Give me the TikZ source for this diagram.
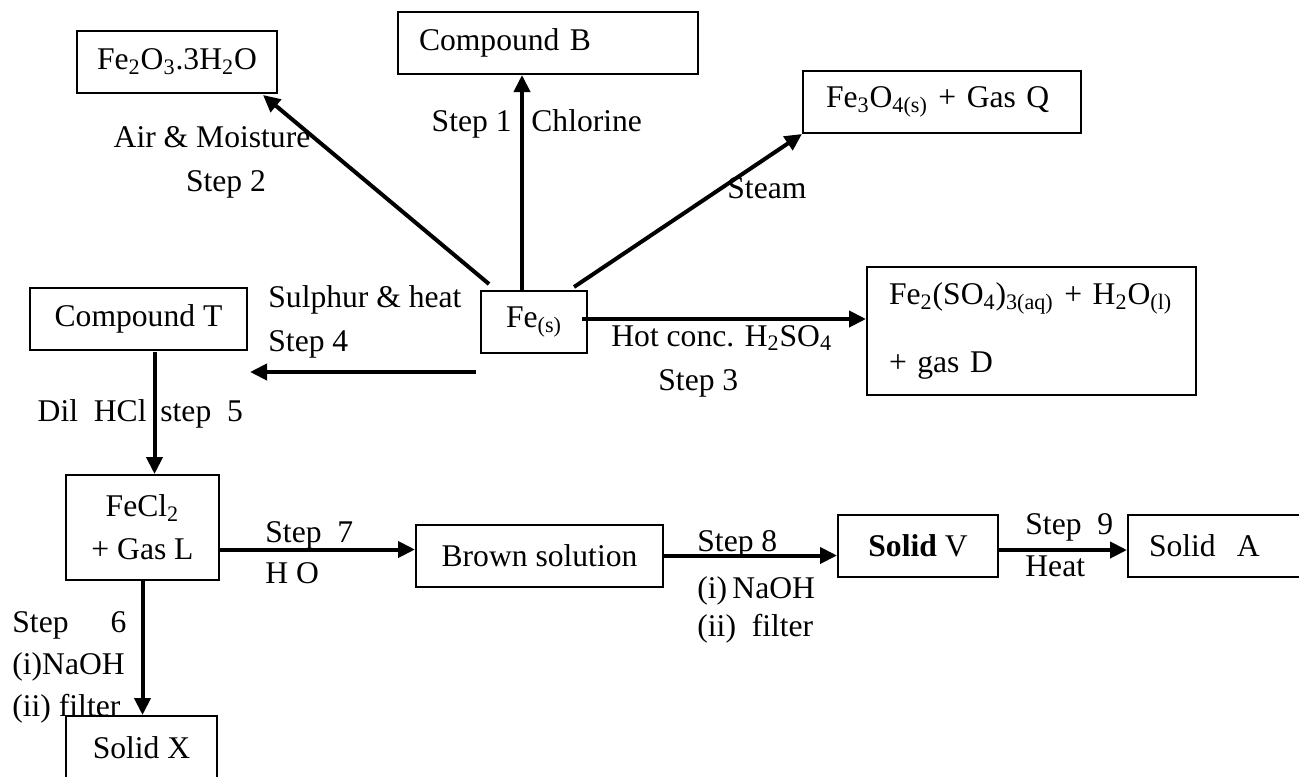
\documentclass[tikz,border=0pt]{standalone}
\usepackage{fontspec}
\setmainfont{Liberation Serif}
\usetikzlibrary{positioning,arrows.meta,calc}
\newcommand{\chsub}[1]{\textsubscript{#1}}

\begin{document}
\begin{tikzpicture}[
  x=0.5pt, y=-0.5pt,
  >={Triangle[length=8.5pt,width=8pt]},
  every node/.style={font=\fontsize{15.8}{19}\selectfont, inner sep=0pt},
  box/.style={draw, line width=1pt, minimum height=31pt, align=center},
  lbox/.style={box, align=left, anchor=west},
  arr/.style={->, line width=2pt},
  lab/.style={anchor=base west}
]
  \useasboundingbox (0,0) rectangle (1299,776);
  % boxes
  \node[box, minimum width=100pt] (hyd) at (177,62) {Fe\chsub{2}O\chsub{3}.3H\chsub{2}O};
  \node[lbox, inner xsep=10.5pt, text width=129pt] (cmpB) at (397,43) {Compound B};
  \node[lbox, inner xsep=11.5pt, text width=116pt] (magn) at (802,102) {Fe\chsub{3}O\chsub{4(s)} + Gas Q};
  \node[lbox, inner xsep=11pt, text width=142.5pt, minimum height=64pt] (sulf) at (866,331)
    {Fe\chsub{2}(SO\chsub{4})\chsub{3(aq)} + H\chsub{2}O\chsub{(l)}\\[15pt] + gas D};
  \node[box, minimum width=53pt] (fe) at (534,322) {Fe\chsub{(s)}};
  \node[box, minimum width=108.5pt] (cmpT) at (138.5,318.5) {Compound T};
  \node[box, minimum width=76.5pt, minimum height=52.5pt] (fecl) at (142.5,527.5) {FeCl\chsub{2}\\[2.5pt]+ Gas L};
  \node[box, minimum width=123.5pt] (brown) at (539.5,555.5) {Brown solution};
  \node[box, minimum width=80pt] (solV) at (918,546) {\textbf{Solid} V};
  \node[lbox, inner xsep=10.5pt, text width=70.5pt] (solA) at (1127,546) {Solid\ \ A};
  \node[box, minimum width=75.5pt, minimum height=32pt] (solX) at (141.5,748) {Solid X};
  % arrow ends
  \coordinate (feHyd) at ($(fe.north west)+(9,-6)$);
  \coordinate (hydIn) at ($(hyd.south east)+(-15,1)$);
  \coordinate (feB) at ($(fe.north)+(-12,0)$);
  \coordinate (feQ) at ($(fe.north east)+(-14,-3)$);
  \coordinate (feD) at ($(fe.east)+(-6,-3)$);
  \coordinate (s4a) at (476,372);
  \coordinate (s4b) at (250,372);
  \coordinate (tOut) at ($(cmpT.south)+(16,1)$);
  \coordinate (clOut) at ($(fecl.east)+(0,22)$);
  \coordinate (vOut) at ($(solV.east)+(0,4)$);
  % arrows
  \draw[arr] (feHyd) -- (hydIn);
  \draw[arr] (feB) -- (feB |- cmpB.south);
  \draw[arr] (feQ) -- (magn.south west);
  \draw[arr] (feD) -- (feD -| sulf.west);
  \draw[arr] (s4a) -- (s4b);
  \draw[arr] (tOut) -- (tOut |- fecl.north);
  \draw[arr] (fecl.south) -- (fecl.south |- solX.north);
  \draw[arr] (clOut) -- (clOut -| brown.west);
  \draw[arr] (brown.east) -- (brown.east -| solV.west);
  \draw[arr] (vOut) -- (vOut -| solA.west);
  % labels
  \node[anchor=base] (lair) at (212,147) {Air \& Moisture};
  \node[anchor=base] (lst2) at (226,191) {Step 2};
  \node[anchor=base east] (lst1) at (512,131) {Step 1};
  \node[lab] (lcl) at (531,131) {Chlorine};
  \node[lab] (lsteam) at (727,198) {Steam};
  \node[lab] (lhot) at (611,346) {Hot conc. H\chsub{2}SO\chsub{4}};
  \node[lab] (lst3) at (658,390) {Step 3};
  \node[lab] (lsul) at (268,307) {Sulphur \& heat};
  \node[lab] (lst4) at (268,351) {Step 4};
  \node[anchor=base east] (ldil) at (147,421) {Dil\ \ HCl};
  \node[lab] (lst5) at (160,421) {step\ \ 5};
  \node[lab] (lst7) at (265,542) {Step\ \ 7};
  \node[lab] (lwat) at (265,583) {H O};
  \node[lab] (lst6) at (12,632) {Step\hspace{21pt}6};
  \node[lab] (lna6) at (12,674) {(i)NaOH};
  \node[lab] (lfi6) at (12,716) {(ii) filter};
  \node[lab] (lst8) at (697,551) {Step 8};
  \node[lab] (lna8) at (697,598) {(i)\,NaOH};
  \node[lab] (lfi8) at (697,636) {(ii)\ \ filter};
  \node[lab] (lst9) at (1025,534) {Step\ \ 9};
  \node[lab] (lheat) at (1025,576) {Heat};
\end{tikzpicture}
\end{document}
